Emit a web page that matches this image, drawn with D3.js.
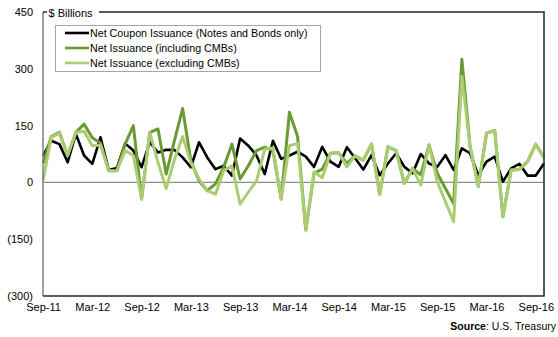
<!DOCTYPE html>
<html>
<head>
<meta charset="utf-8">
<script src="https://cdn.jsdelivr.net/npm/d3@7"></script>
<style>
  html, body { margin: 0; padding: 0; background: #fff; }
  svg { display: block; font-family: "Liberation Sans", Arial, sans-serif; }
</style>
</head>
<body>
<svg id="chart" width="558" height="337"></svg>
<script>
// ---------------- DATA ----------------
const seriesNames = [
  "Net Coupon Issuance (Notes and Bonds only)",
  "Net Issuance (including CMBs)",
  "Net Issuance (excluding CMBs)"
];
const tickLabels = ["Sep-11","Mar-12","Sep-12","Mar-13","Sep-13","Mar-14","Sep-14","Mar-15","Sep-15","Mar-16","Sep-16"];
const yTicks = [450, 300, 150, 0, -150, -300];

// monthly categories, Sep-2011 through Oct-2016
const months = d3.timeMonth.range(new Date(2011, 8, 1), new Date(2016, 10, 1)).map(d3.timeFormat("%Y-%m"));

const couponIssuance = [70,110,101,53,128,71,49,119,33,38,103,84,40,106,79,86,86,66,40,106,66,35,44,18,116,97,71,22,110,62,71,81,68,41,94,55,41,93,64,34,72,19,50,77,41,24,75,50,41,72,33,90,77,19,55,68,2,37,49,18,18,50];
const netInclCMB = [50,121,132,71,132,154,118,104,31,31,101,150,-44,132,141,22,110,195,57,4,-22,-4,40,101,9,44,84,93,84,-44,185,121,-126,24,35,77,78,50,70,59,101,-31,94,84,-3,37,20,99,24,-16,-56,325,95,-11,130,137,-91,33,34,55,101,65];
const netExclCMB = [4,119,130,71,132,135,97,98,31,31,84,71,-44,132,53,-16,60,121,53,9,-22,-31,31,44,-57,-26,4,88,91,-44,97,103,-126,28,12,77,78,41,70,59,101,-31,94,84,-3,37,-7,99,2,-51,-104,280,95,-11,130,137,-91,33,34,55,101,65];

const colors = ["#000000", "#6b9a35", "#abcd72"];

// ---------------- LAYOUT ----------------
(function () {
const pL = 43, pR = 544, pT = 12, pB = 296;
const svg = d3.select("#chart");

const x = d3.scalePoint().domain(months).range([pL, pR]);
const y = d3.scaleLinear().domain([-300, 450]).range([pB, pT]);

// zero line
svg.append("line")
  .attr("x1", pL).attr("x2", pR)
  .attr("y1", y(0)).attr("y2", y(0))
  .attr("stroke", "#8c8c8c").attr("stroke-width", 1.2);

// lines
const line = d3.line().x((d, i) => x(months[i])).y(d => y(d));
const seriesData = [couponIssuance, netInclCMB, netExclCMB];
const widths = [2.6, 3, 3];
seriesData.forEach((s, k) => {
  svg.append("path")
    .datum(s)
    .attr("fill", "none")
    .attr("stroke", colors[k])
    .attr("stroke-width", widths[k])
    .attr("stroke-linejoin", "round")
    .attr("d", line);
});

// frame
svg.append("line").attr("x1", pL).attr("x2", pL).attr("y1", pT).attr("y2", pB)
  .attr("stroke", "#7f7f7f").attr("stroke-width", 1.5);
svg.append("line").attr("x1", pL).attr("x2", pR + 0.75).attr("y1", pB).attr("y2", pB)
  .attr("stroke", "#262626").attr("stroke-width", 1.5);
svg.append("line").attr("x1", pR).attr("x2", pR).attr("y1", pT).attr("y2", pB)
  .attr("stroke", "#262626").attr("stroke-width", 1.5);
svg.append("line").attr("x1", pL).attr("x2", 47).attr("y1", pT).attr("y2", pT)
  .attr("stroke", "#262626").attr("stroke-width", 1.5);
svg.append("line").attr("x1", 99).attr("x2", pR + 0.75).attr("y1", pT).attr("y2", pT)
  .attr("stroke", "#262626").attr("stroke-width", 1.5);

svg.append("text").attr("x", 48.5).attr("y", 16.5)
  .attr("font-size", 11).attr("fill", "#000").text("$ Billions");

// y axis labels
const fmt = v => v < 0 ? "(" + Math.abs(v) + ")" : String(v);
const yAxis = d3.axisLeft(y).tickValues(yTicks).tickFormat(fmt).tickSize(0).tickPadding(10);
const yg = svg.append("g").attr("transform", `translate(${pL},0)`).call(yAxis);
yg.select(".domain").remove();
yg.selectAll("text").attr("font-size", 11).attr("font-family", "Liberation Sans, Arial, sans-serif").attr("fill", "#000");

// x axis labels: every 6th month
const tickMonths = months.filter((m, i) => i % 6 === 0);
const xAxis = d3.axisBottom(x).tickValues(tickMonths)
  .tickFormat((m) => tickLabels[tickMonths.indexOf(m)]).tickSize(0).tickPadding(0);
const xg = svg.append("g").attr("transform", `translate(0,${pB + 7})`).call(xAxis);
xg.select(".domain").remove();
xg.selectAll("text").attr("font-size", 11).attr("font-family", "Liberation Sans, Arial, sans-serif").attr("fill", "#000");

// legend
const lg = svg.append("g");
lg.append("rect").attr("x", 55.5).attr("y", 25.5).attr("width", 265).attr("height", 46)
  .attr("fill", "#fff").attr("stroke", "#a6a6a6").attr("stroke-width", 1);
seriesNames.forEach((name, k) => {
  const yy = 33 + k * 15;
  lg.append("line").attr("x1", 65).attr("x2", 89).attr("y1", yy).attr("y2", yy)
    .attr("stroke", colors[k]).attr("stroke-width", 2.6);
  lg.append("text").attr("x", 90).attr("y", yy + 4)
    .attr("font-size", 10.7).attr("fill", "#000").text(name);
});

// source
const src = svg.append("text").attr("x", 556).attr("y", 330)
  .attr("text-anchor", "end").attr("font-size", 10.5).attr("fill", "#000");
src.append("tspan").attr("font-weight", "bold").text("Source");
src.append("tspan").text(": U.S. Treasury");
})();
</script>
</body>
</html>
